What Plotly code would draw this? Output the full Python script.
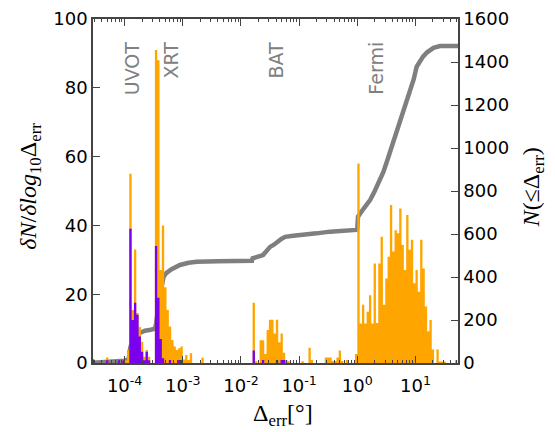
import numpy as np
import plotly.graph_objects as go

# ---------------- data ----------------
bin_width_dex = 0.04          # histogram bins uniform in log10(Delta_err)
first_bin_index = -114        # first bin starts at log10 = -114*0.04

# all bursts (orange), density per log10 bin, k = -114 ... 43
orange_all = [
    1, 0, 0, 0, 0, 0, 1.6, 0, 0, 0,
    0, 0.8, 0, 0.8, 0.8, 3.8, 55, 15.4, 33, 14.5,
    10.5, 6.2, 1.8, 3.8, 1.8, 0, 0, 91, 88, 27,
    40, 22, 15.4, 10.6, 6.7, 4.8, 3.8, 4.3, 4.8, 1,
    2.3, 0.9, 2.8, 0, 0, 0, 0, 1.5, 0, 0,
    0, 0, 0, 0, 0, 0, 0, 0, 0, 0,
    0, 0, 0, 0, 0, 0, 0, 0, 0, 17.5,
    0.5, 0, 6.6, 6.6, 2.6, 9.6, 12.6, 12.6, 8.6, 12.6,
    6, 8.6, 3, 0.9, 0.5, 0, 0, 0, 0, 0,
    0.5, 0, 0, 4.4, 0.9, 0, 0, 0, 0, 0,
    1.6, 1.6, 1.6, 0.6, 0.6, 1.6, 3.6, 0.6, 0, 0.9,
    0, 0, 0, 2.6, 58, 11.5, 16.9, 11.5, 14.9, 19.7,
    11.5, 28.9, 11.6, 28.9, 36.7, 16.9, 24.6, 30.9, 45.9, 32.4,
    38.6, 37.7, 44.9, 34.3, 27.0, 43.0, 32.9, 35.8, 23.2, 27.0,
    20.7, 35.8, 27.5, 16.4, 9.2, 12.5, 3.9, 0, 3.9, 0.4,
    0.4, 0.4, 0, 0, 0, 0, 0.8, 0,
]

# subset (purple), same bins
purple_subset = [
    1, 0, 0, 0, 0, 0, 0.8, 0, 0, 0,
    0, 0.8, 0, 0.8, 0, 0, 39, 12.5, 17.5, 14,
    7.7, 3.3, 0.8, 3.3, 0.8, 0, 0, 34, 19, 7,
    1.4, 0, 0, 0.9, 0, 0, 0, 0.9, 0.9, 0,
    0, 0, 0, 0, 0, 0, 0, 0, 0, 0,
    0, 0, 0, 0, 0, 0, 0, 0, 0, 0,
    0, 0, 0, 0, 0, 0, 0, 0, 0, 3.6,
    0, 0, 0, 0.9, 0, 0, 0, 0, 0, 0.9,
    0, 0.9, 0.9, 0, 0, 0, 0, 0, 0, 0,
] + [0] * 68

# cumulative number N(<= Delta_err)
cum_log_delta = [-4.544, -4.2, -4.0, -3.93, -3.90, -3.86, -3.80, -3.74, -3.65, -3.55,
                 -3.48, -3.46, -3.40, -3.33, -3.29, -3.2, -3.05, -2.9, -2.76, -2.4,
                 -2.0, -1.81, -1.80, -1.72, -1.62, -1.5, -1.44, -1.3, -1.24, -1.1,
                 -0.87, -0.7, -0.47, -0.02, 0.0, 0.012, 0.1, 0.22, 0.30, 0.38,
                 0.45, 0.53, 0.62, 0.70, 0.79, 0.85, 0.91, 0.97, 1.02, 1.08,
                 1.13, 1.2, 1.25, 1.31, 1.42, 1.48, 1.731]
cum_count = [1, 4, 10, 18, 75, 105, 128, 140, 150, 155,
             160, 180, 310, 400, 417, 435, 456, 466, 471, 473,
             474, 476, 487, 495, 502, 540, 549, 578, 587, 592,
             597, 603, 611, 619, 625, 681, 715, 758, 800, 845,
             890, 955, 1030, 1095, 1155, 1205, 1260, 1320, 1378, 1405,
             1425, 1445, 1456, 1466, 1474, 1474, 1474]

x_tick_exponents = [-4, -3, -2, -1, 0, 1]
x_tick_labels = ["10<sup>-4</sup>", "10<sup>-3</sup>", "10<sup>-2</sup>",
                 "10<sup>-1</sup>", "10<sup>0</sup>", "10<sup>1</sup>"]

instrument_labels = ["UVOT", "XRT", "BAT", "Fermi"]
instrument_log_pos = [-3.88, -3.195, -1.39, 0.33]

# ---------------- build ----------------
n_bins = len(orange_all)
edges = 10 ** ((first_bin_index + np.arange(n_bins + 1)) * bin_width_dex)


def step_y(vals):
    v = np.asarray(vals, dtype=float)
    return np.append(v, v[-1])


fig = go.Figure()

fig.add_trace(go.Scatter(
    x=10 ** np.asarray(cum_log_delta), y=cum_count, mode="lines",
    line=dict(color="#7f7f7f", width=4.5), yaxis="y", showlegend=False,
    hoverinfo="skip"))

fig.add_trace(go.Scatter(
    x=edges, y=step_y(orange_all), mode="lines",
    line=dict(shape="hv", width=0, color="#FFA500"),
    fill="tozeroy", fillcolor="#FFA500", yaxis="y2", showlegend=False))

fig.add_trace(go.Scatter(
    x=edges, y=step_y(purple_subset), mode="lines",
    line=dict(shape="hv", width=0, color="#7a00ee"),
    fill="tozeroy", fillcolor="#7a00ee", yaxis="y2", showlegend=False))

minor_vals = [m * 10.0 ** e for e in range(-5, 2) for m in range(2, 10)]

axis_color = "#444444"
tick_font = dict(family="DejaVu Sans", size=18, color="black")
title_font = dict(family="Liberation Serif", size=24, color="black")

# the page body adds an 8 px margin, so the figure is sized/offset for it
fig.update_layout(
    width=547, height=424,
    margin=dict(l=85, r=97, t=11, b=69, autoexpand=False),
    paper_bgcolor="white", plot_bgcolor="white",
    xaxis=dict(
        type="log", range=[-4.544, 1.731], automargin=False,
        tickmode="array", tickvals=[10.0 ** e for e in x_tick_exponents],
        ticktext=x_tick_labels, ticklabelstandoff=6,
        ticks="inside", ticklen=7, tickwidth=1, tickcolor=axis_color,
        minor=dict(tickmode="array", tickvals=minor_vals, ticks="inside",
                   ticklen=3.5, tickwidth=1, tickcolor=axis_color, showgrid=False),
        showline=True, linecolor=axis_color, linewidth=1.5, mirror="ticks",
        showgrid=False, zeroline=False, tickfont=tick_font,
    ),
    yaxis=dict(
        side="right", range=[0, 1600], dtick=200, automargin=False,
        ticks="inside", ticklen=7, tickwidth=1, tickcolor=axis_color,
        showline=True, linecolor=axis_color, linewidth=1.5,
        showgrid=False, zeroline=False, tickfont=tick_font,
    ),
    yaxis2=dict(
        overlaying="y", side="left", range=[0, 100], dtick=20, automargin=False,
        ticks="inside", ticklen=7, tickwidth=1, tickcolor=axis_color,
        showline=True, linecolor=axis_color, linewidth=1.5,
        showgrid=False, zeroline=False, tickfont=tick_font,
    ),
)

# axis titles as annotations (paper coordinates)
fig.add_annotation(text="<i>δN</i>/<i>δlog</i><sub>10</sub>Δ<sub>err</sub>",
                   x=-0.173, y=0.515, xref="paper", yref="paper", textangle=-90,
                   showarrow=False, xanchor="center", yanchor="middle",
                   font=title_font)
fig.add_annotation(text="<i>N</i>(≤Δ<sub>err</sub>)",
                   x=1.205, y=0.51, xref="paper", yref="paper", textangle=-90,
                   showarrow=False, xanchor="center", yanchor="middle",
                   font=title_font)
fig.add_annotation(text="Δ<sub>err</sub>[°]",
                   x=0.52, y=-0.15, xref="paper", yref="paper",
                   showarrow=False, xanchor="center", yanchor="middle",
                   font=title_font)

for lab, pos in zip(instrument_labels, instrument_log_pos):
    fig.add_annotation(
        x=pos, y=94, xref="x", yref="y2", text=lab, textangle=-90,
        showarrow=False, xanchor="center", yanchor="top",
        font=dict(family="DejaVu Sans", size=19, color="#808080"))

fig.write_html("out.html")
